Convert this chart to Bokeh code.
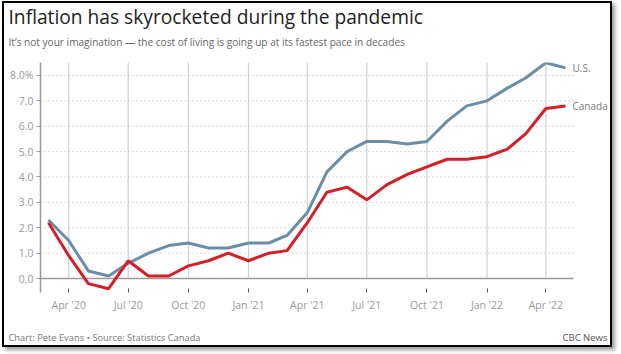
import pandas as pd
from bokeh.plotting import figure
from bokeh.models import (FixedTicker, Label, InlineStyleSheet, PrintfTickFormatter,
                          DatetimeTickFormatter, Range1d)
from bokeh.embed import file_html
from bokeh.resources import INLINE

months = ["2020-02", "2020-03", "2020-04", "2020-05", "2020-06", "2020-07", "2020-08",
          "2020-09", "2020-10", "2020-11", "2020-12", "2021-01", "2021-02", "2021-03",
          "2021-04", "2021-05", "2021-06", "2021-07", "2021-08", "2021-09", "2021-10",
          "2021-11", "2021-12", "2022-01", "2022-02", "2022-03", "2022-04"]
canada = [2.2, 0.9, -0.2, -0.4, 0.7, 0.1, 0.1, 0.5, 0.7, 1.0, 0.7, 1.0, 1.1, 2.2,
          3.4, 3.6, 3.1, 3.7, 4.1, 4.4, 4.7, 4.7, 4.8, 5.1, 5.7, 6.7, 6.8]
us = [2.3, 1.5, 0.3, 0.1, 0.6, 1.0, 1.3, 1.4, 1.2, 1.2, 1.4, 1.4, 1.7, 2.6,
      4.2, 5.0, 5.4, 5.4, 5.3, 5.4, 6.2, 6.8, 7.0, 7.5, 7.9, 8.5, 8.3]
y_ticks = [0, 1, 2, 3, 4, 5, 6, 7, 8]
x_tick_months = ["2020-04", "2020-07", "2020-10", "2021-01", "2021-04",
                 "2021-07", "2021-10", "2022-01", "2022-04"]
series_names = ["U.S.", "Canada"]

title = "Inflation has skyrocketed during the pandemic"
subtitle = "It\u2019s not your imagination \u2014 the cost of living is going up at its fastest pace in decades"
credit = "Chart: Pete Evans \u2022 Source: Statistics Canada"
brand = "CBC News"

FONT = "Open Sans"
US_COLOR = "#688ea8"
CA_COLOR = "#d61e28"

# each month's value is plotted at the end of its month
x = pd.to_datetime(months) + pd.offsets.MonthBegin(1)
tick_dates = pd.to_datetime(x_tick_months)
tick_ms = [t.timestamp() * 1000 for t in tick_dates]

x_start = x[0] - pd.Timedelta(days=12.2)
grid_end = x[-1] + pd.Timedelta(days=12.2)
x_end = x[-1] + pd.Timedelta(days=75)
y_start, y_end = -0.55, 8.51

css = InlineStyleSheet(css=":host { border: 2px solid #000; margin: 1px 0 0 2px; box-shadow: 3px 3px 4px #9a9a9a; }")

p = figure(width=610, height=346, x_axis_type="datetime", output_backend="svg",
           toolbar_location=None, x_range=Range1d(x_start, x_end),
           y_range=Range1d(y_start, y_end), min_border_left=36, min_border_right=0,
           min_border_top=59, min_border_bottom=57, stylesheets=[css])
p.title.visible = False
p.outline_line_color = None
p.background_fill_color = "white"
p.border_fill_color = "white"
p.xgrid.visible = False
p.ygrid.visible = False

# vertical grid lines (from baseline upward)
p.segment(x0=tick_dates, y0=0, x1=tick_dates, y1=y_end, line_color="#cbd2d9",
          line_width=1.2, level="underlay")
# horizontal dotted grid lines and solid baseline, ending just past the last point
p.segment(x0=x_start, y0=y_ticks[1:], x1=grid_end, y1=y_ticks[1:], line_color="#b8b8b8",
          line_width=1, line_dash="1 3", level="underlay")
p.segment(x0=[x_start], y0=[y_ticks[0]], x1=[grid_end], y1=[y_ticks[0]], line_color="#9a9a9a",
          line_width=1.5, level="underlay")

p.line(x, us, line_color=US_COLOR, line_width=3)
p.line(x, canada, line_color=CA_COLOR, line_width=3)

# axes
xa = p.xaxis[0]
xa.ticker = FixedTicker(ticks=tick_ms)
xa.formatter = DatetimeTickFormatter(days="%b '%y", months="%b '%y")
xa.axis_line_color = None
xa.major_tick_in = 4
xa.major_tick_out = 0
xa.major_tick_line_color = "#555555"
xa.minor_tick_line_color = None
xa.major_label_standoff = 5
xa.major_label_text_font = FONT
xa.major_label_text_font_size = "10.5px"
xa.major_label_text_color = "#999999"

ya = p.yaxis[0]
ya.ticker = FixedTicker(ticks=y_ticks)
ya.formatter = PrintfTickFormatter(format="%.1f")
ya.major_label_overrides = {8: "8.0%"}
ya.axis_line_color = "#999999"
ya.axis_line_width = 1.5
ya.major_tick_in = 0
ya.major_tick_out = 4
ya.major_tick_line_color = "#999999"
ya.minor_tick_line_color = None
ya.major_label_standoff = 3
ya.major_label_text_font = FONT
ya.major_label_text_font_size = "10.5px"
ya.major_label_text_color = "#999999"

# series labels at the last point
last_x = x[-1].timestamp() * 1000
for name, vals in zip(series_names, [us, canada]):
    p.add_layout(Label(x=last_x, y=vals[-1], text=name, x_offset=7, text_baseline="middle",
                       text_font=FONT, text_font_size="10px", text_color="#777777"))

# titles and footer in side panels
p.add_layout(Label(x=-32, y=46, x_units="screen", y_units="screen", text=title,
                   text_font=FONT, text_font_size="19.2px", text_color="#222222",
                   text_baseline="alphabetic"), "above")
p.add_layout(Label(x=-32, y=-6, x_units="screen", y_units="screen", text=subtitle,
                   text_font=FONT, text_font_size="10.1px", text_color="#666666",
                   text_baseline="alphabetic"), "above")
p.add_layout(Label(x=-32, y=-10, x_units="screen", y_units="screen", text=credit,
                   text_font=FONT, text_font_size="9.3px", text_color="#777777",
                   text_baseline="alphabetic"), "below")
p.add_layout(Label(x=567, y=3, x_units="screen", y_units="screen", text=brand,
                   text_align="right", text_font=FONT, text_font_size="9.5px",
                   text_color="#555555", text_baseline="alphabetic"), "below")

open("out.html", "w").write(file_html(p, INLINE))
